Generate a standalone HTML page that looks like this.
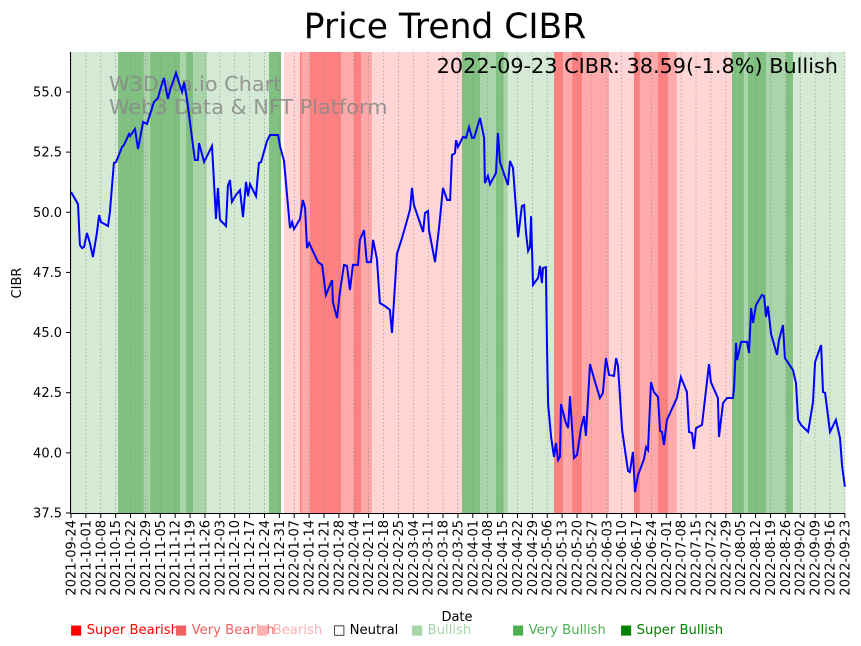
<!DOCTYPE html>
<html><head><meta charset="utf-8"><style>
html,body{margin:0;padding:0;background:#fff;}
svg{display:block;font-family:"DejaVu Sans","Liberation Sans",sans-serif;}
</style></head><body>
<svg id="chart" width="861" height="646" viewBox="0 0 861 646" xmlns="http://www.w3.org/2000/svg">
<text x="445" y="38" text-anchor="middle" font-size="34.5">Price Trend CIBR</text>
<g id="bands"></g>
<g id="grid"></g>
<g fill="#888" fill-opacity="0.85" font-size="20.8">
<text x="109" y="91">W3Data.io Chart</text>
<text x="109" y="114">Web3 Data &amp; NFT Platform</text>
</g>
<path id="priceLine" fill="none" stroke="#0000ff" stroke-width="2"/>
<text x="838" y="73" text-anchor="end" font-size="20.8">2022-09-23 CIBR: 38.59(-1.8%) Bullish</text>
<g id="yaxis"></g>
<g id="xaxis"></g>
<line x1="70.5" y1="52" x2="70.5" y2="513" stroke="#000"/>
<line x1="70" y1="513.5" x2="845" y2="513.5" stroke="#000"/>
<text transform="translate(21,283) rotate(-90)" text-anchor="middle" font-size="13">CIBR</text>
<text x="457" y="621" text-anchor="middle" font-size="13">Date</text>
<g font-size="13.2">
<text x="70" y="634" fill="#ff0000">■ Super Bearish</text>
<text x="175" y="634" fill="#f06060">■ Very Bearish</text>
<text x="256" y="634" fill="#ffb0b0">■ Bearish</text>
<text x="333" y="634" fill="#000">□ Neutral</text>
<text x="411" y="634" fill="#a8d5a8">■ Bullish</text>
<text x="512" y="634" fill="#4caf50">■ Very Bullish</text>
<text x="620" y="634" fill="#008000">■ Super Bullish</text>
</g>
</svg>
<script>
const dayOffsets=[0,3.3,4.2,5.2,6.1,7.5,8.9,10.3,12.2,13.2,14.1,17.4,18.3,20.2,21.2,24.0,24.9,27.3,27.8,30.1,31.5,32.5,33.9,35.7,37.2,39.0,40.9,41.9,43.7,45.6,46.6,49.4,52.2,53.2,54.6,58.3,59.7,60.2,62.6,66.3,68.2,69.1,70.1,72.9,73.8,74.8,75.7,77.6,79.5,80.9,82.3,83.3,84.2,87.0,88.4,89.4,92.2,93.6,97.4,98.3,100.2,103.0,104.0,104.9,107.7,109.1,110.1,111.0,112.0,116.2,118.1,119.9,122.8,123.2,125.1,126.5,128.4,129.8,131.2,132.6,135.0,135.9,137.8,138.8,139.2,141.1,142.1,143.9,145.3,147.7,150.0,151.0,153.3,155.7,158.0,159.5,160.4,161.3,165.6,166.5,167.9,168.4,171.2,173.1,175.0,176.9,178.3,179.2,180.6,181.1,182.0,184.4,185.8,187.2,188.6,189.6,192.4,194.3,194.7,196.1,197.1,199.9,200.8,201.8,205.5,206.5,207.9,210.3,212.1,213.1,214.0,215.0,215.9,216.4,217.3,219.7,220.6,221.5,222.0,223.4,223.9,224.4,225.8,227.2,228.1,229.1,230.0,230.5,231.9,232.8,233.8,234.7,236.6,238.0,239.9,241.3,242.2,244.1,246.5,248.8,250.2,251.6,253.1,255.4,256.4,257.3,259.2,262.0,262.9,264.3,265.3,266.7,269.5,270.5,271.4,272.8,274.2,276.1,277.1,278.0,278.9,280.3,285.0,286.9,289.7,290.7,292.1,293.0,294.0,296.8,300.1,301.0,304.3,304.8,306.7,308.6,311.4,311.9,312.8,313.3,315.2,318.0,318.9,319.9,320.8,322.2,325.0,326.0,326.9,327.8,329.3,332.1,333.0,334.9,335.8,339.6,341.0,342.0,343.4,346.7,349.0,350.0,352.8,353.7,354.7,357.0,359.8,361.7,362.7,364.0];
const prices=[50.84,50.34,48.64,48.51,48.55,49.14,48.72,48.14,49.14,49.88,49.59,49.43,50.01,52.05,52.09,52.71,52.79,53.25,53.17,53.46,52.63,53.09,53.75,53.67,54.08,54.58,54.75,55.08,55.58,54.71,55.08,55.79,55.00,55.41,54.66,52.17,52.17,52.88,52.09,52.75,49.72,51.01,49.68,49.43,51.09,51.34,50.43,50.72,50.92,49.80,51.26,50.67,51.17,50.67,52.05,52.09,52.96,53.21,53.21,52.75,52.13,49.34,49.59,49.30,49.72,50.51,50.18,48.51,48.72,47.93,47.81,46.56,47.18,46.27,45.60,46.68,47.81,47.77,46.77,47.81,47.81,48.85,49.26,48.22,47.93,47.93,48.85,48.06,46.23,46.10,45.94,44.98,48.26,48.93,49.64,50.13,51.01,50.30,49.18,49.97,50.05,49.26,47.93,49.34,51.01,50.51,50.51,52.38,52.46,53.00,52.71,53.13,53.09,53.54,53.09,53.09,53.92,53.09,51.21,51.51,51.17,51.63,53.29,52.09,51.13,52.13,51.84,48.97,50.26,50.30,49.14,48.39,48.55,49.84,46.98,47.27,47.77,47.06,47.68,47.72,44.44,42.03,40.66,39.83,40.41,39.70,39.83,42.03,41.53,41.24,41.03,42.36,39.79,39.91,41.03,41.53,40.70,43.69,42.94,42.28,42.49,43.94,43.24,43.20,43.94,43.61,40.95,39.25,39.20,40.04,38.37,39.08,39.74,40.24,40.12,42.94,42.53,42.32,40.91,40.87,40.33,41.37,42.28,43.15,42.53,40.87,40.82,40.16,41.03,41.16,43.69,42.94,42.28,40.66,42.07,42.28,42.28,42.74,44.57,43.86,44.61,44.61,44.15,46.02,45.40,46.14,46.56,46.52,45.65,46.10,44.94,44.07,44.69,45.31,43.94,43.44,42.90,41.37,41.16,40.87,42.11,43.78,44.48,42.53,42.49,40.87,41.37,40.62,39.45,38.59];
const bandStarts=[0,22.1,34.3,37.2,51.3,54.1,57.4,64.0,93.1,100.2,107.7,108.6,112.4,127.0,133.1,136.4,141.6,183.9,192.4,199.9,203.6,205.5,227.2,231.4,235.7,240.4,253.1,264.8,267.6,276.1,280.8,285.0,310.9,316.6,318.4,326.9,336.3,339.6];
const bandEnds=[22.1,34.3,37.2,51.3,54.1,57.4,64.0,93.1,98.8,107.7,108.6,112.4,127.0,133.1,136.4,141.6,183.9,192.4,199.9,203.6,205.5,227.2,231.4,235.7,240.4,253.1,264.8,267.6,276.1,280.8,285.0,310.9,316.6,318.4,326.9,336.3,339.6,364.1];
const bandLevels=[1,3,2,3,2,3,2,1,3,-1,-3,-2,-3,-2,-3,-2,-1,3,2,3,2,1,-3,-2,-3,-2,-1,-3,-2,-3,-2,-1,3,2,3,2,3,1];
const yTicks=[37.5,40.0,42.5,45.0,47.5,50.0,52.5,55.0];
const xTickLabels=["2021-09-24","2021-10-01","2021-10-08","2021-10-15","2021-10-22","2021-10-29","2021-11-05","2021-11-12","2021-11-19","2021-11-26","2021-12-03","2021-12-10","2021-12-17","2021-12-24","2021-12-31","2022-01-07","2022-01-14","2022-01-21","2022-01-28","2022-02-04","2022-02-11","2022-02-18","2022-02-25","2022-03-04","2022-03-11","2022-03-18","2022-03-25","2022-04-01","2022-04-08","2022-04-15","2022-04-22","2022-04-29","2022-05-06","2022-05-13","2022-05-20","2022-05-27","2022-06-03","2022-06-10","2022-06-17","2022-06-24","2022-07-01","2022-07-08","2022-07-15","2022-07-22","2022-07-29","2022-08-05","2022-08-12","2022-08-19","2022-08-26","2022-09-02","2022-09-09","2022-09-16","2022-09-23"];

const NS="http://www.w3.org/2000/svg";
const X0=71, PXDAY=2.126, Y0=513, PXUNIT=24.06, YMIN=37.5;
function xs(d){return X0+d*PXDAY;}
function ys(v){return Y0-(v-YMIN)*PXUNIT;}
const colorOf={"1":"#d5ead5","2":"#aad5aa","3":"#80c080","-1":"#ffd5d5","-2":"#ffaaaa","-3":"#ff8080"};
function mk(tag,attrs,parent){const e=document.createElementNS(NS,tag);for(const k in attrs)e.setAttribute(k,attrs[k]);parent.appendChild(e);return e;}

const bandsG=document.getElementById('bands');
for(let i=0;i<bandStarts.length;i++){
  const r=mk('rect',{x:xs(bandStarts[i]),y:52,width:Math.max(0,xs(bandEnds[i])-xs(bandStarts[i])),height:461,fill:colorOf[String(bandLevels[i])]},bandsG);
  
  
}
const gridG=document.getElementById('grid');
const xG=document.getElementById('xaxis');
for(let k=0;k<xTickLabels.length;k++){
  const x=xs(k*7);
  const g=mk('line',{x1:x,y1:52,x2:x,y2:513,stroke:'#888','stroke-width':0.7,'stroke-dasharray':'1.2,2.5'},gridG);
  
  
  const t=mk('line',{x1:x,y1:513,x2:x,y2:518,stroke:'#000'},xG);
  
  
  const lb=mk('text',{transform:`translate(${x+4.5},520) rotate(-90)`,'text-anchor':'end','font-size':13},xG);
  lb.textContent=xTickLabels[k];
  
  
}
const yG=document.getElementById('yaxis');
for(const v of yTicks){
  const y=ys(v);
  const t=mk('line',{x1:66,y1:y,x2:70,y2:y,stroke:'#000'},yG);
  
  
  const lb=mk('text',{x:62,y:y+4.5,'text-anchor':'end','font-size':13},yG);
  lb.textContent=v.toFixed(1);
  
  
}
let d='';
for(let i=0;i<prices.length;i++){d+=(i?'L':'M')+xs(dayOffsets[i]).toFixed(1)+','+ys(prices[i]).toFixed(1);}
document.getElementById('priceLine').setAttribute('d',d);
</script>
</body></html>
